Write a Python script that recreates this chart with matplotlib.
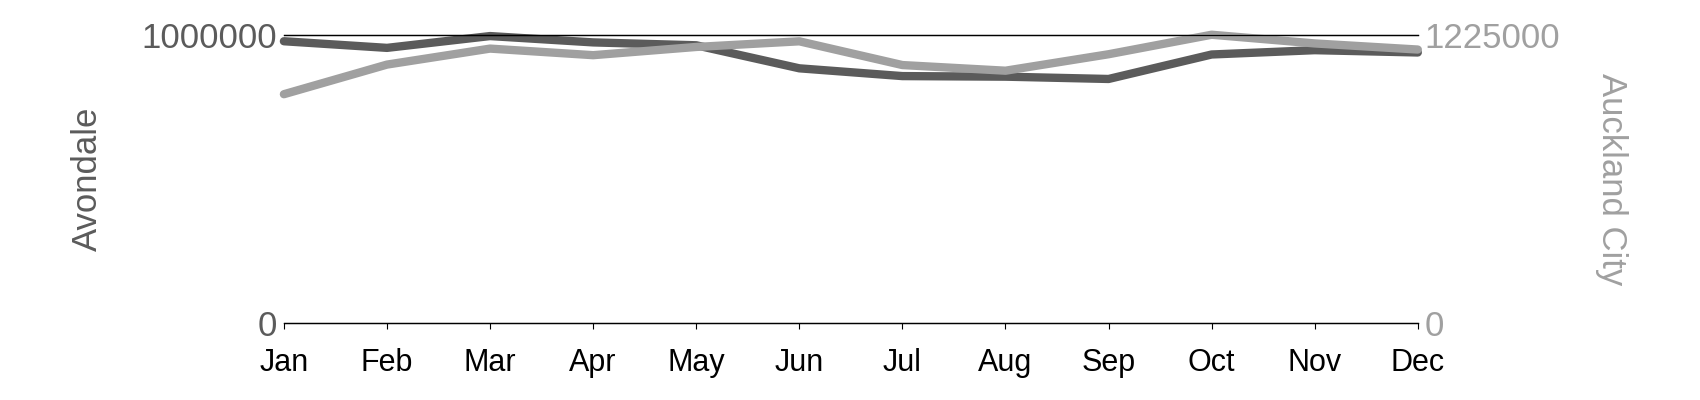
import matplotlib
matplotlib.use("Agg")
import matplotlib.pyplot as plt

plt.rcParams.update({
    "font.family": ["Liberation Sans", "DejaVu Sans"],
})

months = ["Jan", "Feb", "Mar", "Apr", "May", "Jun",
          "Jul", "Aug", "Sep", "Oct", "Nov", "Dec"]
avondale = [979000, 956000, 997000, 975000, 965000, 885000,
            858000, 856000, 848000, 933000, 948000, 940000]
auckland = [974000, 1100000, 1168000, 1140000, 1175000, 1199000,
            1098000, 1074000, 1144000, 1227000, 1190000, 1164000]
left_max = 1000000
right_max = 1225000

DARK = "#5b5b5b"
LIGHT = "#a0a0a0"

fig = plt.figure(figsize=(17, 4), dpi=100)
ax = fig.add_axes([0.167, 0.192, 0.667, 0.72])
ax2 = ax.twinx()

x = range(len(months))
ax.plot(x, avondale, color=DARK, linewidth=6, solid_capstyle="round",
        clip_on=False)
ax2.plot(x, auckland, color=LIGHT, linewidth=6, solid_capstyle="round",
         clip_on=False)

ax.set_xlim(0, len(months) - 1)
ax.set_ylim(0, left_max)
ax2.set_ylim(0, right_max)

ax.set_xticks(list(x))
ax.set_xticklabels(months, fontsize=22, color="black")
ax.tick_params(axis="x", direction="out", length=4, width=0.8, pad=14)

ax.set_yticks([0, left_max])
ax.set_yticklabels(["0", str(left_max)], fontsize=25, color=DARK)
ax.tick_params(axis="y", length=0, pad=5)
ax2.set_yticks([0, right_max])
ax2.set_yticklabels(["0", str(right_max)], fontsize=25, color=LIGHT)
ax2.tick_params(axis="y", length=0, pad=5)

ax.set_ylabel("Avondale", fontsize=25, color=DARK, labelpad=27)
ax2.set_ylabel("Auckland City", fontsize=25, color=LIGHT, rotation=270,
               va="bottom", labelpad=25)

for a in (ax, ax2):
    a.spines["left"].set_visible(False)
    a.spines["right"].set_visible(False)
    a.spines["top"].set_linewidth(0.9)
    a.spines["bottom"].set_linewidth(0.9)

fig.savefig("out.png", dpi=100)
